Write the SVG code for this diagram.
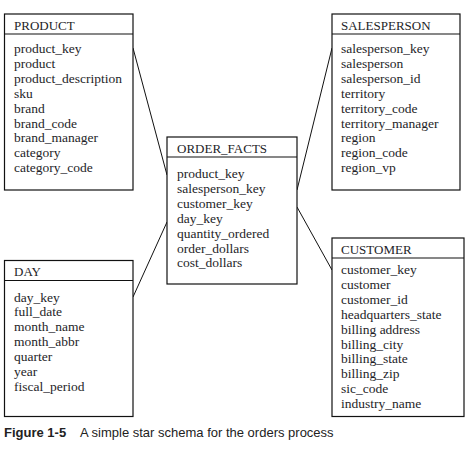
<svg xmlns="http://www.w3.org/2000/svg" width="471" height="451" viewBox="0 0 471 451">
<style>
.box{fill:#fff;stroke:#111;stroke-width:1.2}
.div{stroke:#111;stroke-width:1.2}
.t{font-family:"Liberation Serif",serif;font-size:13.5px;fill:#1e1e28}
.h{font-size:13px}
.ln{stroke:#111;stroke-width:1;fill:none}
.cap{font-family:"Liberation Sans",Arial,sans-serif;font-size:13px;fill:#222}
</style>
<rect width="471" height="451" fill="#fff"/>
<g id="connectors">
<line class="ln" x1="133" y1="48" x2="167" y2="175"/>
<line class="ln" x1="133" y1="297" x2="167" y2="222"/>
<line class="ln" x1="297" y1="190" x2="332" y2="48"/>
<line class="ln" x1="297" y1="207" x2="332" y2="270"/>
</g>
<g id="product">
<rect class="box" x="4.5" y="14" width="128.5" height="176"/>
<line class="div" x1="4.5" y1="34" x2="133" y2="34"/>
<text class="t h" x="14" y="29.5">PRODUCT</text>
<text class="t" x="14" y="53">product_key</text>
<text class="t" x="14" y="67.9">product</text>
<text class="t" x="14" y="82.8">product_description</text>
<text class="t" x="14" y="97.7">sku</text>
<text class="t" x="14" y="112.6">brand</text>
<text class="t" x="14" y="127.5">brand_code</text>
<text class="t" x="14" y="142.4">brand_manager</text>
<text class="t" x="14" y="157.3">category</text>
<text class="t" x="14" y="172.2">category_code</text>
</g>
<g id="order_facts">
<rect class="box" x="167" y="137" width="130" height="147"/>
<line class="div" x1="167" y1="157" x2="297" y2="157"/>
<text class="t h" x="177" y="152.5">ORDER_FACTS</text>
<text class="t" x="177" y="178">product_key</text>
<text class="t" x="177" y="192.9">salesperson_key</text>
<text class="t" x="177" y="207.8">customer_key</text>
<text class="t" x="177" y="222.7">day_key</text>
<text class="t" x="177" y="237.6">quantity_ordered</text>
<text class="t" x="177" y="252.5">order_dollars</text>
<text class="t" x="177" y="267.4">cost_dollars</text>
</g>
<g id="salesperson">
<rect class="box" x="332" y="14" width="128" height="176"/>
<line class="div" x1="332" y1="34" x2="460" y2="34"/>
<text class="t h" x="341" y="29.5">SALESPERSON</text>
<text class="t" x="341" y="53">salesperson_key</text>
<text class="t" x="341" y="67.9">salesperson</text>
<text class="t" x="341" y="82.8">salesperson_id</text>
<text class="t" x="341" y="97.7">territory</text>
<text class="t" x="341" y="112.6">territory_code</text>
<text class="t" x="341" y="127.5">territory_manager</text>
<text class="t" x="341" y="142.4">region</text>
<text class="t" x="341" y="157.3">region_code</text>
<text class="t" x="341" y="172.2">region_vp</text>
</g>
<g id="day">
<rect class="box" x="4.5" y="260.5" width="128.5" height="156"/>
<line class="div" x1="4.5" y1="280.5" x2="133" y2="280.5"/>
<text class="t h" x="14" y="275.5">DAY</text>
<text class="t" x="14" y="301.5">day_key</text>
<text class="t" x="14" y="316.4">full_date</text>
<text class="t" x="14" y="331.3">month_name</text>
<text class="t" x="14" y="346.2">month_abbr</text>
<text class="t" x="14" y="361.1">quarter</text>
<text class="t" x="14" y="376">year</text>
<text class="t" x="14" y="390.9">fiscal_period</text>
</g>
<g id="customer">
<rect class="box" x="332" y="238" width="132" height="178.5"/>
<line class="div" x1="332" y1="258" x2="464" y2="258"/>
<text class="t h" x="341" y="253.5">CUSTOMER</text>
<text class="t" x="341" y="274">customer_key</text>
<text class="t" x="341" y="288.9">customer</text>
<text class="t" x="341" y="303.8">customer_id</text>
<text class="t" x="341" y="318.7">headquarters_state</text>
<text class="t" x="341" y="333.6">billing address</text>
<text class="t" x="341" y="348.5">billing_city</text>
<text class="t" x="341" y="363.4">billing_state</text>
<text class="t" x="341" y="378.3">billing_zip</text>
<text class="t" x="341" y="393.2">sic_code</text>
<text class="t" x="341" y="408.1">industry_name</text>
</g>
<g id="caption">
<text class="cap" x="4" y="437" font-weight="bold">Figure 1-5</text>
<text class="cap" x="80" y="437">A simple star schema for the orders process</text>
</g>
</svg>
